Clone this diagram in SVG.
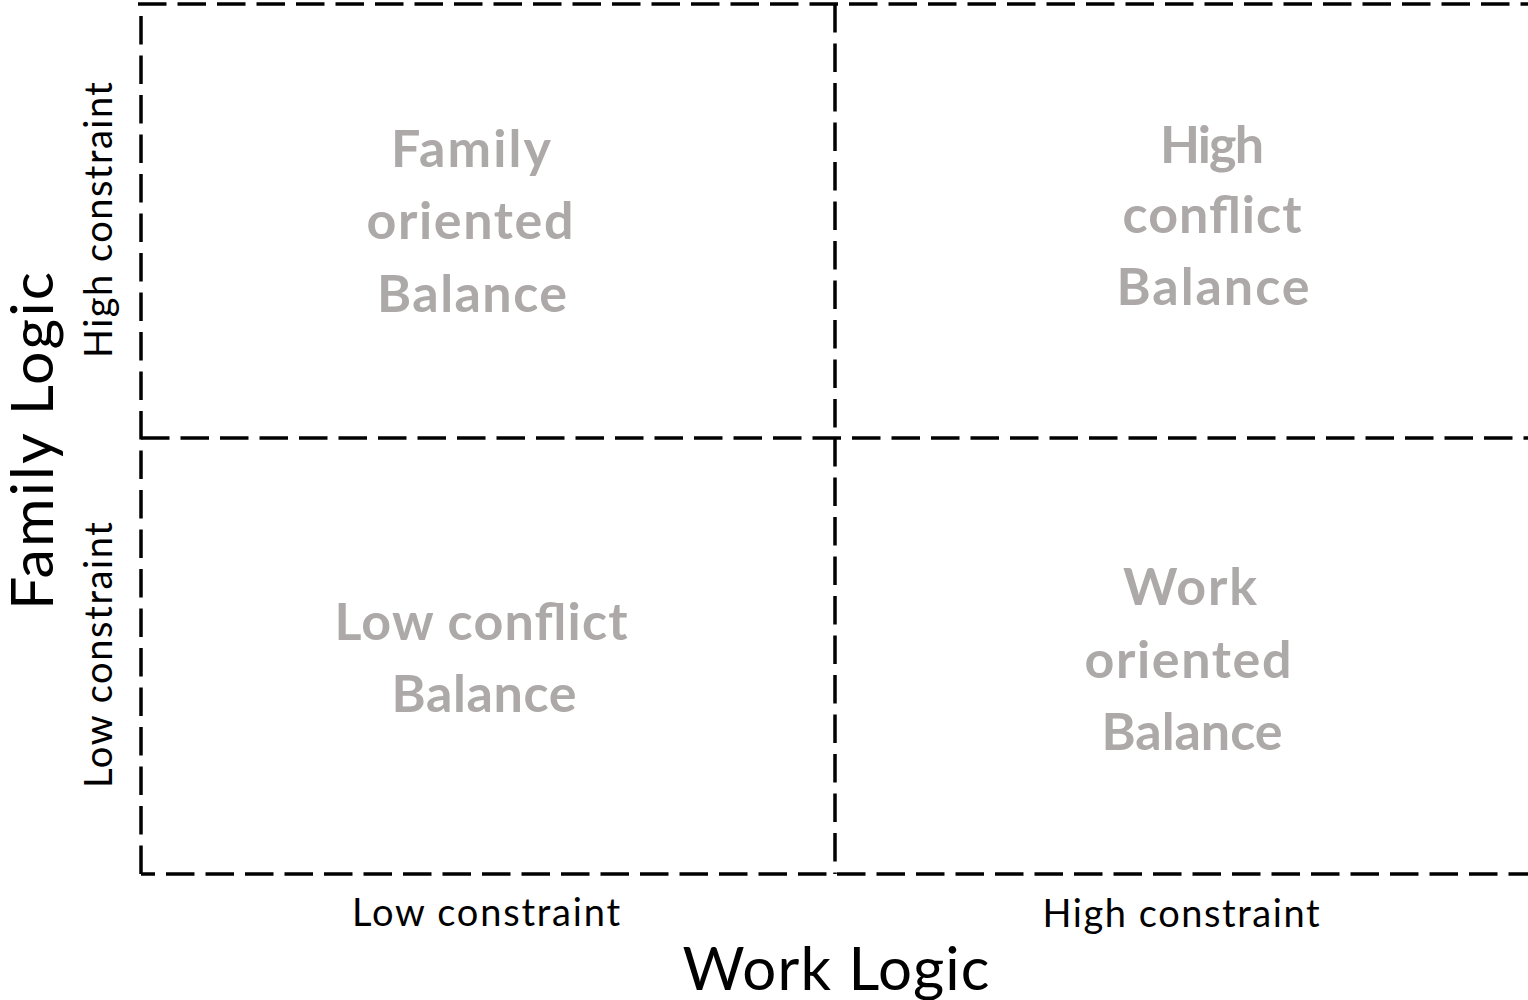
<svg xmlns="http://www.w3.org/2000/svg" width="1528" height="1000" viewBox="0 0 1528 1000">
<style>
.ln{fill:none;stroke:#000;stroke-width:3.5;stroke-dasharray:28.5 11}
.q{font-family:Lato,"Open Sans","Liberation Sans",sans-serif;font-weight:700;font-size:52px;fill:#ADA9A9;text-anchor:middle}
.ax{font-family:Lato,"Open Sans","Liberation Sans",sans-serif;font-size:38px;fill:#000;text-anchor:middle}
.big{font-family:Lato,"Open Sans","Liberation Sans",sans-serif;font-size:60px;fill:#000;text-anchor:middle}
</style>
<rect width="1528" height="1000" fill="#fff"/>
<g id="connectors">
<path class="ln" d="M138,4 H1528"/>
<path class="ln" d="M141,874 V4"/>
<path class="ln" d="M141,874 H830" stroke-dashoffset="14.5"/>
<path class="ln" d="M837,874 H1528"/>
<path class="ln" d="M141,438 H841"/>
<path class="ln" d="M852,438 H1528"/>
<path class="ln" d="M835,4 V430"/>
<path class="ln" d="M835,438 V874"/>
</g>
<g id="q-family-oriented">
<text class="q" x="471" y="167" textLength="160">Family</text>
<text class="q" x="470" y="239" textLength="207">oriented</text>
<text class="q" x="472" y="312" textLength="190">Balance</text>
</g>
<g id="q-high-conflict">
<text class="q" x="1212" y="163" textLength="104">High</text>
<text class="q" x="1212" y="233" textLength="179">conflict</text>
<text class="q" x="1213" y="305" textLength="193">Balance</text>
</g>
<g id="q-low-conflict">
<text class="q" x="481" y="640" textLength="293">Low conflict</text>
<text class="q" x="484" y="712" textLength="185">Balance</text>
</g>
<g id="q-work-oriented">
<text class="q" x="1190" y="605" textLength="134">Work</text>
<text class="q" x="1188" y="678" textLength="207">oriented</text>
<text class="q" x="1192" y="750" textLength="181">Balance</text>
</g>
<g id="axis-x">
<text class="ax" x="486" y="926" textLength="268">Low constraint</text>
<text class="ax" x="1181" y="927" textLength="277">High constraint</text>
<text class="big" x="836" y="990" textLength="307">Work Logic</text>
</g>
<g id="axis-y">
<text class="ax" transform="translate(112,220) rotate(-90)" x="0" y="0" textLength="276">High constraint</text>
<text class="ax" transform="translate(112,655) rotate(-90)" x="0" y="0" textLength="266">Low constraint</text>
<text class="big" transform="translate(53,441) rotate(-90)" x="0" y="0" textLength="338" style="font-size:59px">Family Logic</text>
</g>
</svg>
